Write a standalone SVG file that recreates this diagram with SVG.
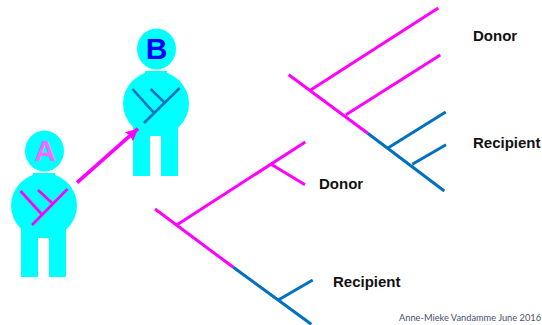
<svg xmlns="http://www.w3.org/2000/svg" width="542" height="325" viewBox="0 0 542 325">
<defs>
<marker id="ah" markerUnits="userSpaceOnUse" markerWidth="14" markerHeight="14" refX="12" refY="6" orient="auto"><path d="M0 0L12 6L0 12L1.500 6Z" fill="#ff00ff"/></marker>
</defs>
<style>
.fig{fill:#00ffff}
.m,.b,.n,.nb,.a{fill:none;stroke-linecap:butt}
.m{stroke:#ff00ff;stroke-width:3}
.a{stroke:#ff00ff;stroke-width:3.600}
.b{stroke:#0070c0;stroke-width:3}
.n{stroke:#ff00ff;stroke-width:2.600}
.nb{stroke:#0070c0;stroke-width:2.600}
.l{font-family:"Liberation Sans",Arial,sans-serif;font-weight:700;font-size:15px;fill:#111}
.i{font-family:"Liberation Sans",Arial,sans-serif;font-weight:700;font-size:30px;text-anchor:middle}
</style>
<rect width="542" height="325" fill="#fff"/>
<g id="person-a">
<ellipse class="fig" cx="44.500" cy="151" rx="19.500" ry="20.500"/>
<ellipse class="fig" cx="44" cy="205.500" rx="33" ry="32.500"/>
<rect class="fig" x="33" y="173" width="22" height="2"/>
<path class="fig" d="M21 225H66V277H49V238H38V277H21Z"/>
<text class="i" x="45" y="161" fill="#ff66ff">A</text>
<path class="n" d="M20.500 191L41.500 214M38 190L52 203M32 225L67.500 189"/>
</g>
<g id="person-b">
<ellipse class="fig" cx="156.500" cy="49" rx="19.500" ry="20.500"/>
<ellipse class="fig" cx="156" cy="103.500" rx="33" ry="32.500"/>
<rect class="fig" x="145" y="71" width="22" height="2"/>
<path class="fig" d="M133 123H178V176H161V136H150V176H133Z"/>
<text class="i" x="156.500" y="59" fill="#0000ff">B</text>
<path class="nb" d="M132.500 89L153.700 112.700M150.700 89L164 102M144 123L179.700 88"/>
</g>
<g id="connectors">
<line class="a" x1="77" y1="182.700" x2="138" y2="128.700" marker-end="url(#ah)"/>
</g>
<g id="tree-upper">
<path class="m" d="M288.700 74.700L367.700 133.300M310.700 90L438.300 8M346 114.700L440.300 55"/>
<path class="b" d="M367.700 133.300L444.300 191M388.300 147.700L445.700 112M412.300 164.300L446 144.700"/>
</g>
<g id="tree-lower">
<path class="m" d="M155 209L233.300 267.300M176.700 225L305.300 142M270.700 164L305 184.700"/>
<path class="b" d="M233.300 267.300L311.300 324.300M278.300 300L312.700 280"/>
</g>
<g id="label-donor-upper"><text class="l" x="473" y="41">Donor</text></g>
<g id="label-recipient-upper"><text class="l" x="473" y="148">Recipient</text></g>
<g id="label-donor-lower"><text class="l" x="319" y="189">Donor</text></g>
<g id="label-recipient-lower"><text class="l" x="333" y="286.500">Recipient</text></g>
<g id="credit"><text x="399" y="321" font-family="Lato,'Open Sans',sans-serif" font-size="9" fill="#44546a" textLength="142" lengthAdjust="spacingAndGlyphs">Anne-Mieke Vandamme June 2016</text></g>
</svg>
